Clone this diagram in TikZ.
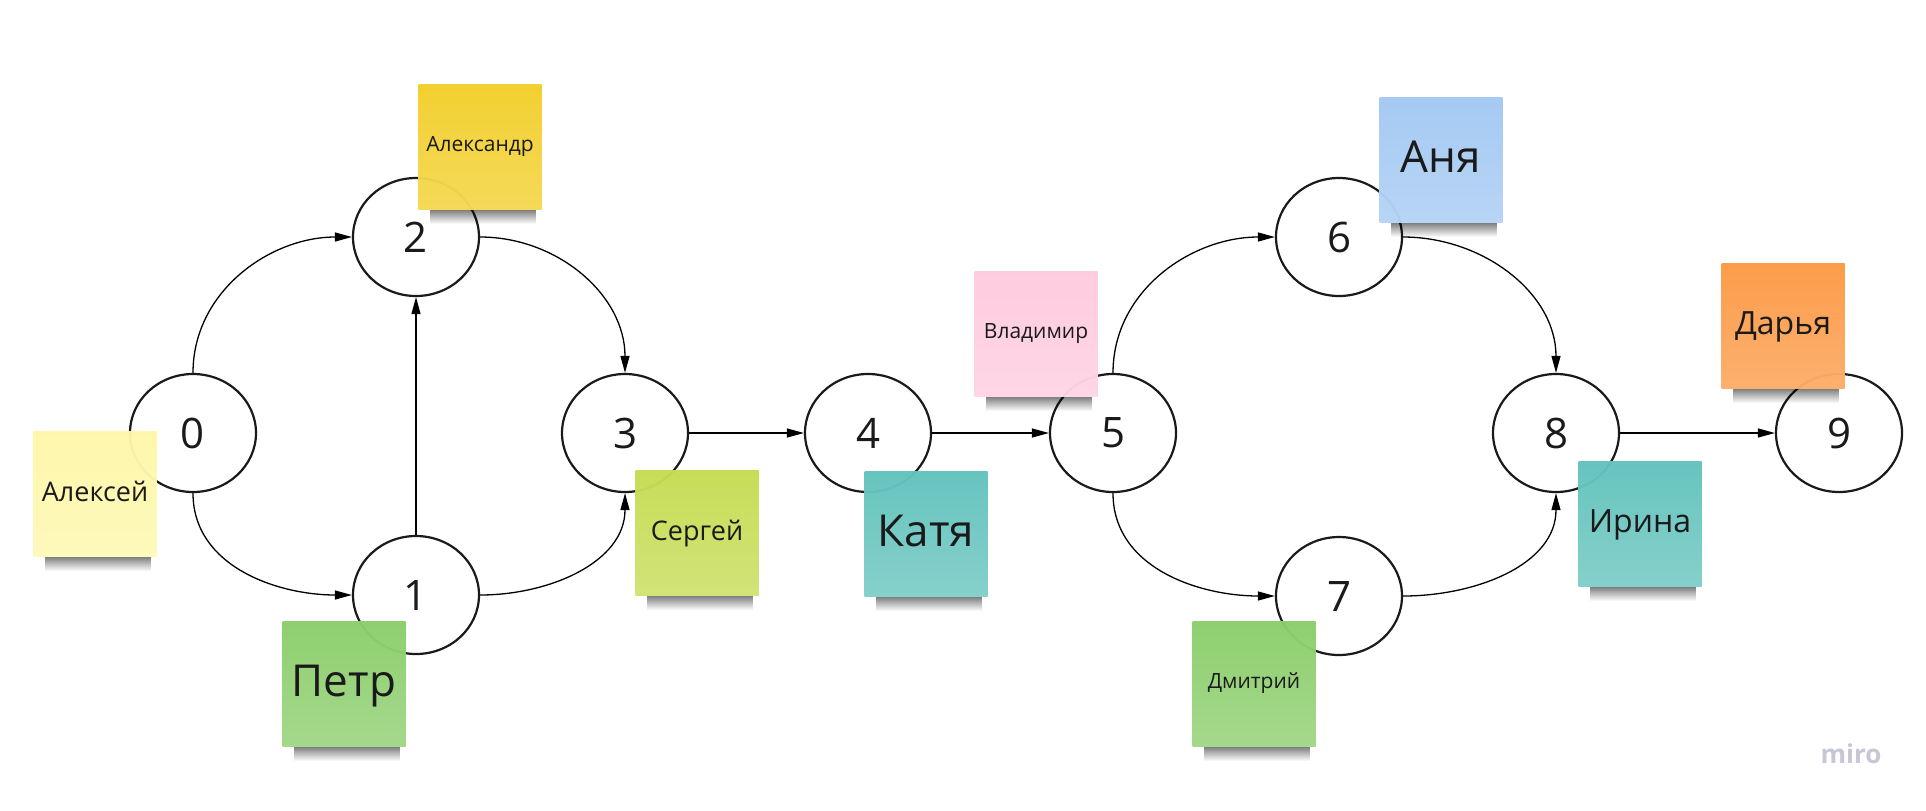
\documentclass[tikz,border=0pt]{standalone}
\usepackage{fontspec}
\setmainfont{Open Sans}
\usepackage{tikz}
\usetikzlibrary{arrows.meta,shapes.geometric,fadings}
\definecolor{NoteInk}{HTML}{1A1A1A}
\definecolor{NoteLemon}{HTML}{FEF7A9}
\definecolor{NoteYellow}{HTML}{F2CF2A}
\definecolor{NoteGreen}{HTML}{8BCE6B}
\definecolor{NoteLime}{HTML}{C6DC52}
\definecolor{NoteTeal}{HTML}{63C3BD}
\definecolor{NotePink}{HTML}{FECBDF}
\definecolor{NoteBlue}{HTML}{A3C9F3}
\definecolor{NoteOrange}{HTML}{FC9A45}
\definecolor{MiroGray}{HTML}{C6C7D6}
\tikzfading[name=shadefade, top color=transparent!0, bottom color=transparent!100]
\tikzset{
  figstate/.style={ellipse, draw=NoteInk, line width=1.1pt, fill=white, minimum width=63pt, minimum height=59pt, inner sep=0pt, font=\fontsize{21}{25}\selectfont, text=NoteInk},
  fignote/.style={rectangle, minimum width=61.5pt, minimum height=62.5pt, inner sep=0pt, text depth=.3em, fill opacity=.97, text opacity=1, top color=#1, bottom color=#1!80!white, text=NoteInk},
  noteshade/.style={fill=black, fill opacity=.5, path fading=shadefade},
  namesmall/.style={font=\fontsize{10.5}{12}\selectfont},
  namemid/.style={font=\fontsize{13.5}{16}\selectfont},
  namelarge/.style={font=\fontsize{16}{19}\selectfont},
  namehuge/.style={font=\fontsize{22}{26}\selectfont},
  figarrow/.style={-{Triangle[length=8.5pt,width=4.5pt]}, line width=.65pt, draw=black}
}
\begin{document}
\begin{tikzpicture}[x=0.5pt, y=-0.5pt]
\fill[white] (0,0) rectangle (1926,810);
\useasboundingbox (0,0) rectangle (1926,810);
% states
\node[figstate] (s0) at (193,433) {0};
\node[figstate] (s1) at (416,595) {1};
\node[figstate] (s2) at (416,237) {2};
\node[figstate] (s3) at (625,433) {3};
\node[figstate] (s4) at (868,433) {4};
\node[figstate] (s5) at (1113,433) {5};
\node[figstate] (s6) at (1339,237) {6};
\node[figstate] (s7) at (1339,596) {7};
\node[figstate] (s8) at (1556,433) {8};
\node[figstate] (s9) at (1839,433) {9};
% arcs
\draw[figarrow] (s0.north) to[out=90,in=180] (s2.west);
\draw[figarrow] (s0.south) to[out=-90,in=180] (s1.west);
\draw[figarrow] (s1) -- (s2);
\draw[figarrow] (s2.east) to[out=0,in=90] (s3.north);
\draw[figarrow] (s1.east) to[out=0,in=-90] (s3.south);
\draw[figarrow] (s3) -- (s4);
\draw[figarrow] (s4) -- (s5);
\draw[figarrow] (s5.north) to[out=90,in=180] (s6.west);
\draw[figarrow] (s5.south) to[out=-90,in=180] (s7.west);
\draw[figarrow] (s6.east) to[out=0,in=90] (s8.north);
\draw[figarrow] (s7.east) to[out=0,in=-90] (s8.south);
\draw[figarrow] (s8) -- (s9);
% stickies
\node[fignote=NoteLemon, namemid] (alexey) at (95,494) {Алексей};
\node[fignote=NoteYellow, namesmall] (alexandr) at (480,147) {Александр};
\node[fignote=NoteGreen, namehuge] (petr) at (344,684) {Петр};
\node[fignote=NoteLime, namemid] (sergey) at (697,533) {Сергей};
\node[fignote=NoteTeal, namehuge] (katya) at (926,534) {Катя};
\node[fignote=NotePink, namesmall] (vladimir) at (1036,334) {Владимир};
\node[fignote=NoteBlue, namehuge] (anya) at (1441,160) {Аня};
\node[fignote=NoteOrange, namelarge] (darya) at (1783,326) {Дарья};
\node[fignote=NoteTeal, namelarge] (irina) at (1640,524) {Ирина};
\node[fignote=NoteGreen, namesmall] (dmitry) at (1254,684) {Дмитрий};
\foreach \n in {alexey,alexandr,petr,sergey,katya,vladimir,anya,darya,irina,dmitry}
  \fill[noteshade] ([xshift=6pt]\n.south west) rectangle ([xshift=-3pt,yshift=-7pt]\n.south east);
\node[font=\fontsize{13}{15}\selectfont\bfseries, text=MiroGray] (brand) at (1851,754) {miro};
\end{tikzpicture}
\end{document}
